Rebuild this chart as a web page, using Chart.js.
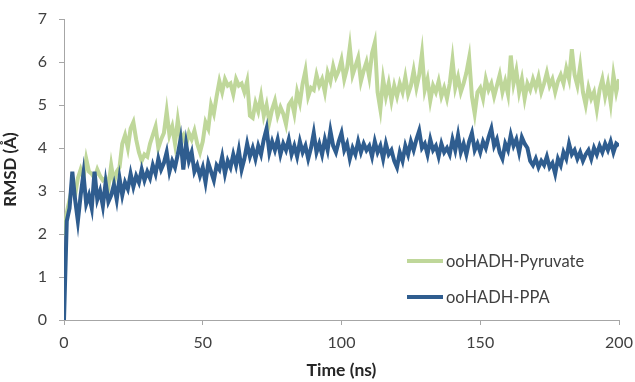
<!DOCTYPE html>
<html>
<head>
<meta charset="utf-8">
<script src="https://cdn.jsdelivr.net/npm/chart.js@4.4.1/dist/chart.umd.min.js"></script>
<style>
  html, body { margin: 0; padding: 0; background: #fff; }
  #wrap { width: 635px; height: 382px; }
</style>
</head>
<body>
<div id="wrap"><canvas id="rmsdChart" width="635" height="382"></canvas></div>
<script>
// RMSD (Å) leido cada 1 ns, de 0 a 200 ns
const pyruvateRmsd = [
  1.95, 2.5, 2.8, 3.1, 2.9, 3.3, 3.5, 3.3, 3.75, 3.45,
  3.4, 3.3, 3.5, 3.35, 3.25, 3.3, 3.1, 3.6, 3.2, 3.45,
  3.55, 4.1, 4.3, 4.0, 4.45, 4.6, 4.2, 3.9, 3.7, 3.85,
  3.8, 4.1, 4.3, 4.5, 4.0, 4.2, 4.35, 4.85, 4.3, 4.5,
  4.1, 4.65, 4.2, 4.3, 4.05, 4.35, 4.2, 4.4, 4.1, 3.9,
  4.15, 4.6, 4.45, 5.0, 4.8, 5.2, 5.55, 5.3, 5.6, 5.45,
  5.5, 5.25, 5.6, 5.45, 5.5, 5.3, 5.55, 4.75, 4.7, 5.05,
  4.85, 5.2, 4.75, 5.0, 4.6, 4.9, 5.1, 4.75, 4.95, 4.8,
  4.55, 5.0, 5.1, 4.8, 5.3, 5.05, 5.5, 5.8, 5.2, 5.4,
  5.35, 5.7, 5.45, 5.6, 5.3, 5.75, 5.55, 5.9, 5.65, 5.8,
  6.05, 5.6, 5.85, 6.35, 5.7, 5.9, 6.1, 5.55, 5.8, 6.0,
  5.65, 6.2, 6.45, 5.3, 4.9, 5.6, 5.2, 5.5, 5.1, 5.45,
  5.2, 5.5, 5.3, 5.65, 5.25, 5.45, 5.8, 5.4, 5.7, 6.2,
  5.35, 5.6, 5.1, 5.45, 5.3, 5.55, 5.2, 5.4, 5.15, 5.5,
  6.05, 5.4, 5.65, 5.3, 5.5, 5.75, 6.1, 5.2, 4.8, 5.3,
  5.4, 5.15, 5.6, 5.35, 5.5, 5.2, 5.45, 5.7, 5.3, 5.55,
  5.25, 6.15, 5.5, 5.8, 5.3, 5.6, 5.15, 5.5, 5.35, 5.6,
  5.4, 5.65, 5.3, 5.5, 5.75, 5.45, 5.6, 5.3, 5.55, 5.7,
  5.5, 5.85, 5.6, 6.3, 5.7, 5.45, 5.9, 5.3, 5.0, 5.4,
  5.15, 5.3, 4.9, 5.35, 5.6, 5.2, 5.5, 5.05, 5.7, 5.3,
  5.6
];

const ppaRmsd = [
  0, 2.3, 2.6, 3.45, 2.8, 2.3, 2.9, 3.4, 2.7, 2.9,
  2.6, 3.45, 2.8, 3.0, 2.65, 3.2, 2.75, 2.9, 3.15, 2.8,
  3.3, 2.9, 3.2, 3.05, 3.4, 3.1, 3.35, 3.2, 3.5, 3.25,
  3.45, 3.3, 3.6, 3.4, 3.75, 3.5, 3.65, 3.9, 3.45, 3.7,
  3.55, 3.85, 4.2, 3.5, 4.1, 3.7, 3.9, 3.45, 3.6, 3.35,
  3.55, 3.2, 3.65, 3.45, 3.25, 3.6, 3.5, 3.8, 3.4, 3.7,
  3.55, 3.85, 3.6, 3.95, 3.5, 3.75, 4.1, 3.8, 4.0, 3.75,
  4.05, 3.85, 4.2, 4.45, 3.9, 4.15, 3.95, 4.2, 3.85, 4.1,
  3.95, 4.2, 3.85, 4.05, 3.8, 4.15, 3.9, 4.05, 3.75, 4.0,
  4.35, 3.9, 4.1, 3.85, 4.2, 3.95, 4.4, 4.05, 3.9, 4.15,
  4.35, 3.95, 4.1, 3.75, 4.0, 3.85, 4.15, 3.9, 4.1, 3.95,
  4.05, 3.8, 4.15, 3.9, 4.05, 3.75, 4.1, 3.85, 3.95, 3.7,
  3.55, 3.9, 3.7, 4.05, 3.85, 4.15, 3.95, 4.2, 4.4, 4.0,
  4.1, 3.85, 4.2, 3.95, 4.05, 3.8, 4.1, 3.9, 4.0, 3.85,
  4.2, 3.95, 4.3, 3.9, 4.1, 3.85, 4.15, 4.35, 3.95, 4.1,
  3.9, 4.15, 4.0, 4.25, 4.45, 4.05, 4.2, 3.9, 3.75, 4.1,
  3.95, 4.3, 4.05, 4.2, 3.9, 4.25, 4.1, 4.0, 3.7, 3.6,
  3.75, 3.55, 3.7, 3.6, 3.8, 3.55, 3.65, 3.4, 3.75, 3.6,
  3.9, 3.75, 4.1, 3.85, 3.95, 3.75, 3.9, 3.7, 3.85, 3.95,
  3.75, 4.0, 3.85, 4.05, 3.9, 4.1, 3.95, 4.15, 3.9, 4.1,
  4.05
];

// eje de tiempo: una muestra por ns
const timeNs = pyruvateRmsd.map((_, i) => i);

const textoGris = '#404040';
const ejeGris = '#a6a6a6';
const fuente = 'Lato, "Open Sans", sans-serif';

// leyenda dentro del area del grafico, abajo a la derecha
const leyendaInterna = {
  id: 'leyendaInterna',
  afterDatasetsDraw(chart) {
    const { ctx, chartArea } = chart;
    ctx.save();
    ctx.font = '16.5px ' + fuente;
    ctx.textBaseline = 'middle';
    ctx.fillStyle = textoGris;
    chart.data.datasets.forEach((ds, i) => {
      const y = chartArea.bottom - 59 + i * 36;
      const x0 = chartArea.right - 212;
      ctx.strokeStyle = ds.borderColor;
      ctx.lineWidth = 4;
      ctx.beginPath();
      ctx.moveTo(x0, y);
      ctx.lineTo(x0 + 36, y);
      ctx.stroke();
      ctx.fillText(ds.label, x0 + 39, y + 1);
    });
    ctx.restore();
  }
};

new Chart(document.getElementById('rmsdChart'), {
  type: 'line',
  data: {
    labels: timeNs,
    datasets: [
      {
        label: 'ooHADH-Pyruvate',
        data: pyruvateRmsd,
        borderColor: '#bfd79a',
        borderWidth: 4,
        pointRadius: 0,
        tension: 0,
        order: 2
      },
      {
        label: 'ooHADH-PPA',
        data: ppaRmsd,
        borderColor: '#2f5d8f',
        borderWidth: 4,
        pointRadius: 0,
        tension: 0,
        order: 1
      }
    ]
  },
  options: {
    responsive: false,
    animation: false,
    layout: { padding: { top: 19, right: 16, bottom: 0, left: 0 } },
    plugins: {
      legend: { display: false },
      tooltip: { enabled: false }
    },
    scales: {
      x: {
        type: 'linear',
        min: 0,
        max: 200,
        ticks: { stepSize: 50, color: textoGris, font: { family: fuente, size: 16 }, padding: 8, maxRotation: 0 },
        grid: { drawOnChartArea: false, drawTicks: true, tickLength: 5, color: ejeGris },
        border: { color: ejeGris },
        title: { display: true, text: 'Time (ns)', color: '#262626', font: { family: fuente, size: 17.5, weight: 'bold' }, padding: { top: 0, bottom: 1 } },
        afterFit(scale) {
          scale.height = 62;
          scale.paddingLeft = 0;
          scale.paddingRight = 0;
        }
      },
      y: {
        min: 0,
        max: 7,
        ticks: { stepSize: 1, color: textoGris, font: { family: fuente, size: 16 }, padding: 12 },
        grid: { drawOnChartArea: false, drawTicks: true, tickLength: 5, color: ejeGris },
        border: { color: ejeGris },
        title: { display: true, text: 'RMSD (Å)', color: '#262626', font: { family: fuente, size: 17, weight: 'bold' }, padding: { top: 0, bottom: 0 } },
        afterFit(scale) {
          scale.width = 64;
          scale.paddingTop = 0;
          scale.paddingBottom = 0;
        }
      }
    }
  },
  plugins: [leyendaInterna]
});
</script>
</body>
</html>
